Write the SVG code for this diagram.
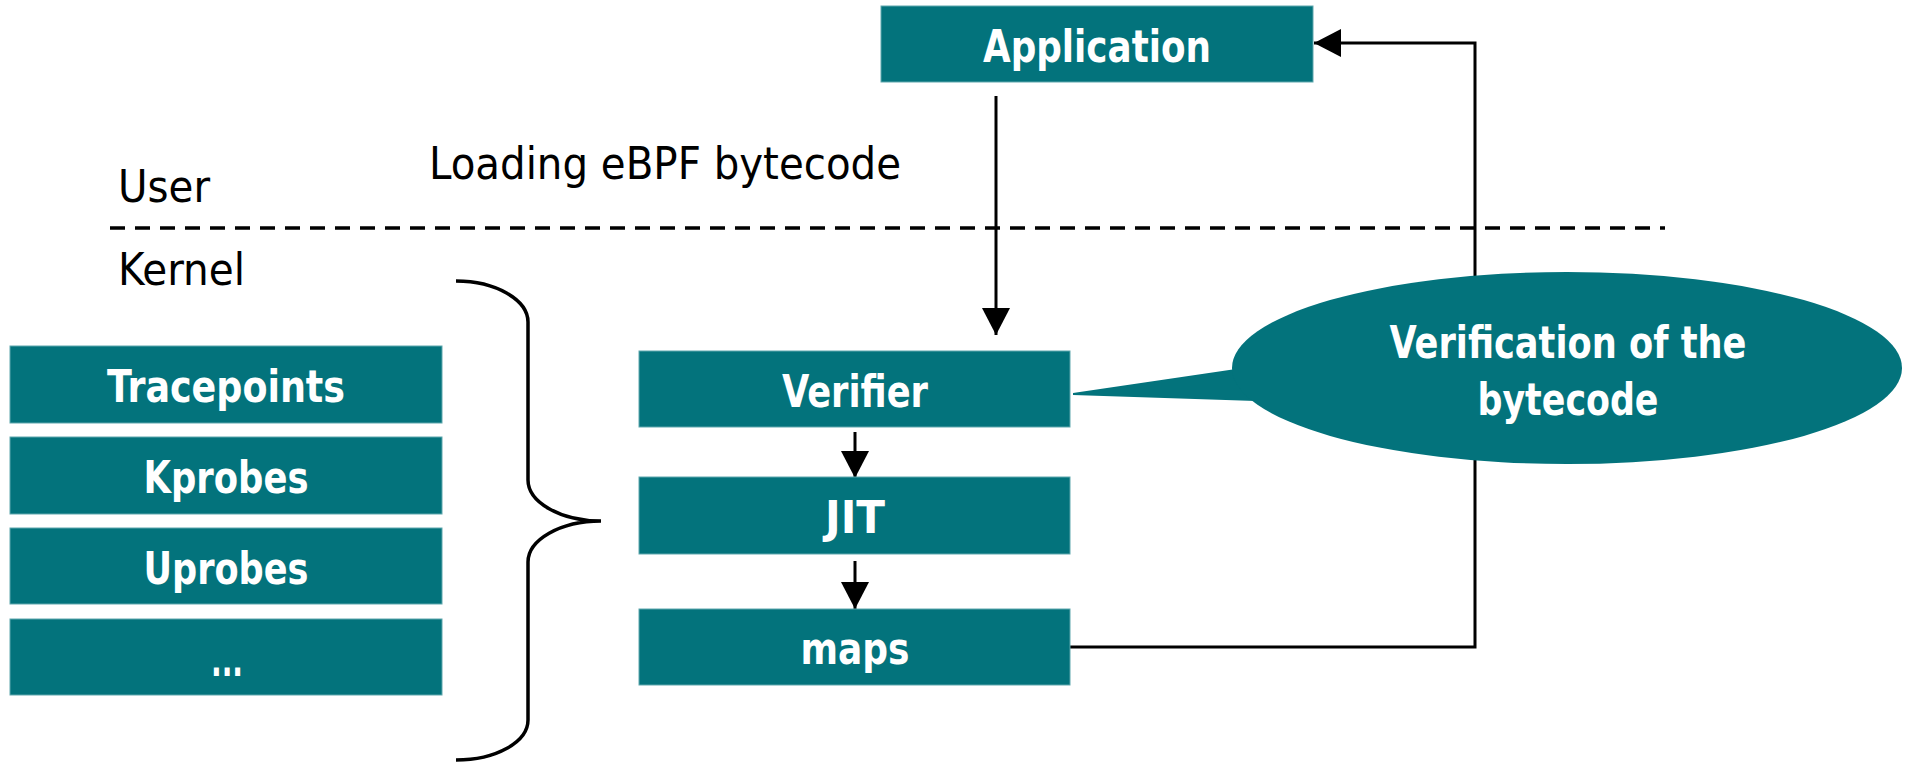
<svg xmlns="http://www.w3.org/2000/svg" width="1913" height="764" viewBox="0 0 1913 764">
  <style>
    .box { fill: #03737c; stroke: #5fa7ad; stroke-width: 1; }
    .lbl { font-family: "DejaVu Sans Condensed", "Liberation Sans", Arial, sans-serif; font-weight: bold; font-size: 45px; fill: #ffffff; text-anchor: middle; }
    .txt { font-family: "DejaVu Sans Condensed", "Liberation Sans", Arial, sans-serif; font-size: 45px; fill: #000000; }
    .wire { fill: none; stroke: #000000; stroke-width: 3; }
  </style>
  <defs>
    <marker id="head" viewBox="0 0 27 28" refX="27" refY="14" markerWidth="27" markerHeight="28" markerUnits="userSpaceOnUse" orient="auto">
      <path d="M0,0 L27,14 L0,28 Z" fill="#000000"/>
    </marker>
  </defs>
  <rect width="1913" height="764" fill="#ffffff"/>

  <!-- user / kernel boundary -->
  <g id="boundary">
    <line x1="110" y1="228" x2="1665" y2="228" stroke="#000000" stroke-width="3.5" stroke-dasharray="15 10"/>
    <text class="txt" x="118" y="202" textLength="92" lengthAdjust="spacingAndGlyphs">User</text>
    <text class="txt" x="118" y="285" textLength="127" lengthAdjust="spacingAndGlyphs">Kernel</text>
  </g>

  <!-- connectors -->
  <g id="connectors">
    <line class="wire" x1="996" y1="96" x2="996" y2="335" marker-end="url(#head)"/>
    <line class="wire" x1="855" y1="432" x2="855" y2="478" marker-end="url(#head)"/>
    <line class="wire" x1="855" y1="561" x2="855" y2="609" marker-end="url(#head)"/>
    <polyline class="wire" points="1070,647 1475,647 1475,43 1314,43" marker-end="url(#head)"/>
    <text class="txt" x="429" y="179" textLength="472" lengthAdjust="spacingAndGlyphs">Loading eBPF bytecode</text>
  </g>

  <!-- curly brace grouping the event sources -->
  <g id="brace">
    <path d="M456,281 C496,281 528,300 528,322 L528,480 C528,502 560,521 601,521 C560,521 528,540 528,562 L528,720 C528,742 496,760 456,760" fill="none" stroke="#000000" stroke-width="3.5"/>
  </g>

  <g id="application">
    <rect class="box" x="881" y="6" width="432" height="76"/>
    <text class="lbl" x="1097" y="62" textLength="228" lengthAdjust="spacingAndGlyphs">Application</text>
  </g>

  <g id="verifier">
    <rect class="box" x="639" y="351" width="431" height="76"/>
    <text class="lbl" x="855" y="407" textLength="146" lengthAdjust="spacingAndGlyphs">Verifier</text>
  </g>
  <g id="jit">
    <rect class="box" x="639" y="477" width="431" height="77"/>
    <text class="lbl" x="855" y="533" textLength="60" lengthAdjust="spacingAndGlyphs">JIT</text>
  </g>
  <g id="maps">
    <rect class="box" x="639" y="609" width="431" height="76"/>
    <text class="lbl" x="855" y="664" textLength="109" lengthAdjust="spacingAndGlyphs">maps</text>
  </g>

  <g id="tracepoints">
    <rect class="box" x="10" y="346" width="432" height="77"/>
    <text class="lbl" x="226" y="402" textLength="238" lengthAdjust="spacingAndGlyphs">Tracepoints</text>
  </g>
  <g id="kprobes">
    <rect class="box" x="10" y="437" width="432" height="77"/>
    <text class="lbl" x="226" y="493" textLength="165" lengthAdjust="spacingAndGlyphs">Kprobes</text>
  </g>
  <g id="uprobes">
    <rect class="box" x="10" y="528" width="432" height="76"/>
    <text class="lbl" x="226" y="584" textLength="165" lengthAdjust="spacingAndGlyphs">Uprobes</text>
  </g>
  <g id="more">
    <rect class="box" x="10" y="619" width="432" height="76"/>
    <text class="lbl" x="227" y="676" textLength="32" lengthAdjust="spacingAndGlyphs">...</text>
  </g>

  <!-- callout bubble pointing at the verifier -->
  <g id="callout">
    <polygon points="1073,393 1236,369 1256,401 1073,395" fill="#03737c"/>
    <ellipse cx="1567" cy="368" rx="335" ry="96" fill="#03737c"/>
    <text class="lbl" x="1568" y="358" textLength="357" lengthAdjust="spacingAndGlyphs">Verification of the</text>
    <text class="lbl" x="1568" y="415" textLength="181" lengthAdjust="spacingAndGlyphs">bytecode</text>
  </g>
</svg>
